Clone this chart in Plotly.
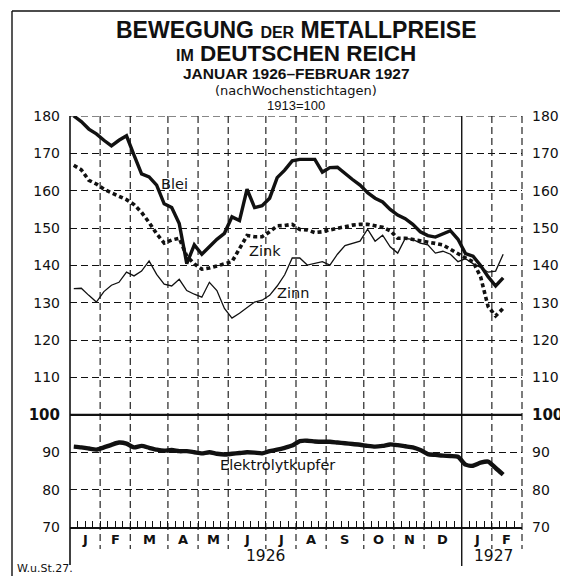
import plotly.graph_objects as go

# ---- data (weekly observations, Jan 1926 - Feb 1927, 1913 = 100) ----
month_labels = ["J", "F", "M", "A", "M", "J", "J", "A", "S", "O", "N", "D", "J", "F"]
weeks_per_month = [4, 4, 5, 4, 4, 5, 4, 4, 5, 4, 4, 5, 4, 4]
year_labels = ["1926", "1927"]

blei = [180, 178.5, 176.5, 175.2, 173.5, 172, 173.5, 174.7, 169.5, 164.5,
        163.7, 161.5, 156.5, 155.5, 151.2, 140.5, 145.5, 143, 145, 147,
        148.6, 153, 152, 160.4, 155.5, 156, 158, 163.5, 165.5, 168,
        168.4, 168.4, 168.4, 165, 166.2, 166.3, 164.5, 163, 161.5, 159.5,
        158, 157, 155, 153.5, 152.5, 151, 149, 148, 147.6, 148.5,
        149.3, 147, 143.2, 142.5, 140, 137, 134.5, 136.7]
zink = [166.8, 165.6, 162.8, 161.8, 160.4, 159.4, 158.5, 157.6, 156.3, 154.2,
        151.5, 148.5, 146, 146.8, 147.3, 142.5, 140.4, 139, 139.3, 139.8,
        140.3, 141, 144.5, 148, 147.7, 147.7, 149, 150.6, 150.7, 151,
        149.6, 149.5, 148.8, 149, 149.5, 150, 150.4, 150.8, 151, 151,
        150.6, 150.2, 149.3, 147.3, 147.3, 147, 146.6, 146.2, 145.9, 145.5,
        144.3, 143.2, 142, 141, 137, 129, 126.5, 128.5]
zinn = [133.8, 133.9, 132, 130.2, 133, 134.7, 135.5, 138.2, 137.2, 138.5,
        141.2, 137.6, 135, 134.5, 136.3, 133.3, 132.3, 131.5, 135.5, 133.3,
        128.5, 125.9, 127.2, 128.7, 130.2, 130.7, 132, 134.5, 137.5, 142,
        142, 140.1, 140.6, 141, 140.1, 143, 145.3, 146, 146.5, 149.7,
        146.5, 148.1, 145, 143.3, 147.2, 147, 146, 145.5, 143.3, 143.8,
        143, 141, 141.8, 140.5, 139.5, 138.2, 138.5, 143]
kupfer = [91.5, 91.3, 91, 90.7, 91.3, 92, 92.6, 92.3, 91.3, 91.7,
          91.2, 90.7, 90.4, 90.6, 90.3, 90.3, 90, 89.7, 90, 89.6,
          89.4, 89.6, 89.8, 90, 89.9, 89.7, 90.3, 90.7, 91.2, 91.8,
          93, 93.1, 92.9, 92.8, 92.8, 92.6, 92.4, 92.2, 92, 91.7,
          91.5, 91.7, 92.1, 91.9, 91.6, 91.3, 90.6, 89.5, 89.3, 89.1,
          89, 88.8, 86.7, 86.4, 87.2, 87.5, 85.8, 84]
y_ticks = [70, 80, 90, 100, 110, 120, 130, 140, 150, 160, 170, 180]

# ---- derived positions ----
n = len(blei)
weeks = [i + 0.5 for i in range(n)]
bounds = [0]
for w in weeks_per_month:
    bounds.append(bounds[-1] + w)
total = bounds[-1]
year_split = bounds[12]

W, H = 568, 576
ML, MR, MT, MB = 62, 54, 108, 57
PW, PH = W - ML - MR, H - MT - MB


def px(X):
    return (X - ML) / PW


def py(Y):
    return (H - MB - Y) / PH


INK = "#111111"
FONT = "DejaVu Sans"
TF = "Liberation Sans"

fig = go.Figure()
fig.add_trace(go.Scatter(x=weeks, y=zinn, mode="lines",
                         line=dict(color=INK, width=1.3), showlegend=False))
fig.add_trace(go.Scatter(x=weeks, y=zink, mode="lines",
                         line=dict(color=INK, width=3.6, dash="4px,3px"), showlegend=False))
fig.add_trace(go.Scatter(x=weeks, y=blei, mode="lines",
                         line=dict(color=INK, width=3.4), showlegend=False))
fig.add_trace(go.Scatter(x=weeks, y=kupfer, mode="lines",
                         line=dict(color=INK, width=4.4, shape="spline", smoothing=0.6),
                         showlegend=False))
# right axis copy (invisible trace)
fig.add_trace(go.Scatter(x=[weeks[0]], y=[blei[0]], yaxis="y2", mode="lines",
                         line=dict(width=0), showlegend=False, hoverinfo="skip"))

ticktext = ["<b><span style='font-size:15px'>100</span></b>" if v == 100 else str(v)
            for v in y_ticks]
common_y = dict(range=[70, 180], tickvals=y_ticks, ticktext=ticktext,
                tickfont=dict(family=FONT, size=14, color=INK),
                ticks="", ticklabelstandoff=9, zeroline=False, fixedrange=True)

fig.update_layout(
    width=W, height=H,
    margin=dict(l=ML, r=MR, t=MT, b=MB),
    paper_bgcolor="white", plot_bgcolor="white",
    xaxis=dict(range=[0, total], tickvals=list(range(0, total + 1)),
               ticks="inside", ticklen=6, tickwidth=1, tickcolor=INK,
               showticklabels=False, showgrid=False, zeroline=False,
               showline=True, linecolor=INK, linewidth=1.6, mirror=False),
    yaxis=dict(**common_y, showgrid=True, gridcolor=INK, gridwidth=1.1,
               griddash="7px,4px", showline=False),
    yaxis2=dict(**common_y, overlaying="y", side="right", showgrid=False,
                showline=False),
)

shapes = []
# vertical month lines
for b in bounds[1:]:
    if b == year_split:
        shapes.append(dict(type="line", xref="paper", yref="paper",
                           x0=b / total, x1=b / total, y0=1, y1=py(558),
                           line=dict(color=INK, width=1.4)))
    else:
        shapes.append(dict(type="line", xref="paper", yref="paper",
                           x0=b / total, x1=b / total, y0=1, y1=py(541),
                           line=dict(color=INK, width=1.1, dash="7px,4px")))
# left solid border
shapes.append(dict(type="line", xref="paper", yref="paper", x0=0, x1=0,
                   y0=1, y1=py(557), line=dict(color=INK, width=1.6)))
# 100 reference line
shapes.append(dict(type="line", xref="paper", yref="y", x0=0, x1=1, y0=100, y1=100,
                   line=dict(color=INK, width=2.2)))
# top dashed line
shapes.append(dict(type="line", xref="paper", yref="y", x0=0, x1=1, y0=180, y1=180,
                   line=dict(color=INK, width=1.1, dash="7px,4px")))
# outer frame (left, top, dotted bottom)
shapes.append(dict(type="line", xref="paper", yref="paper", x0=px(4), x1=px(4),
                   y0=py(3), y1=py(575), line=dict(color=INK, width=1.4)))
shapes.append(dict(type="line", xref="paper", yref="paper", x0=px(4), x1=px(566),
                   y0=py(3), y1=py(3), line=dict(color=INK, width=1.4)))
shapes.append(dict(type="line", xref="paper", yref="paper", x0=px(566), x1=px(566),
                   y0=py(3), y1=py(7), line=dict(color=INK, width=1.2)))
shapes.append(dict(type="line", xref="paper", yref="paper", x0=px(4), x1=px(564),
                   y0=py(574), y1=py(574), line=dict(color=INK, width=1.0, dash="3px,6px")))
fig.update_layout(shapes=shapes)

ann = []
# month labels
for i, lab in enumerate(month_labels):
    c = (bounds[i] + bounds[i + 1]) / 2
    ann.append(dict(x=c, y=py(531), xref="x", yref="paper", yanchor="middle",
                    text="<b>" + lab + "</b>",
                    showarrow=False, font=dict(family=FONT, size=13, color=INK)))
ann.append(dict(x=year_split / 2, y=py(548), xref="x", yref="paper", yanchor="middle",
                text=year_labels[0],
                showarrow=False, font=dict(family=FONT, size=15.5, color=INK)))
ann.append(dict(x=56.2, y=py(548), xref="x", yref="paper", yanchor="middle",
                text=year_labels[1], showarrow=False,
                font=dict(family=FONT, size=15.5, color=INK)))
# series labels
LF = dict(family=FONT, size=14.5, color=INK)
ann.append(dict(x=13.9, y=161.8, xref="x", yref="y", text="Blei", showarrow=False, font=LF))
ann.append(dict(x=25.85, y=143.8, xref="x", yref="y", text="Zink", showarrow=False, font=LF))
ann.append(dict(x=29.6, y=132.6, xref="x", yref="y", text="Zinn", showarrow=False, font=LF))
ann.append(dict(x=27.5, y=86.7, xref="x", yref="y", text="Elektrolytkupfer",
                showarrow=False, font=LF))
# titles
ann.append(dict(x=0.5, y=py(22), xref="paper", yref="paper", yanchor="middle",
                showarrow=False,
                text="<b>BEWEGUNG <span style='font-size:16px'>DER</span> METALLPREISE</b>",
                font=dict(family=TF, size=23, color=INK)))
ann.append(dict(x=0.5, y=py(46), xref="paper", yref="paper", yanchor="middle",
                showarrow=False,
                text="<b><span style='font-size:16px'>IM</span> DEUTSCHEN REICH</b>",
                font=dict(family=TF, size=22.5, color=INK)))
ann.append(dict(x=0.5, y=py(65.5), xref="paper", yref="paper", yanchor="middle",
                showarrow=False, text="<b>JANUAR 1926–FEBRUAR 1927</b>",
                font=dict(family=TF, size=15.5, color=INK)))
ann.append(dict(x=0.5, y=py(82), xref="paper", yref="paper", yanchor="middle",
                showarrow=False, text="(nachWochenstichtagen)",
                font=dict(family=FONT, size=13, color=INK)))
ann.append(dict(x=0.5, y=py(97.5), xref="paper", yref="paper", yanchor="middle",
                showarrow=False, text="1913=100",
                font=dict(family=TF, size=13, color=INK)))
ann.append(dict(x=px(7), y=py(560), xref="paper", yref="paper", yanchor="middle",
                showarrow=False, xanchor="left", text="W.u.St.27.",
                font=dict(family=FONT, size=11, color=INK)))
fig.update_layout(annotations=ann)

fig.write_html("out.html")
